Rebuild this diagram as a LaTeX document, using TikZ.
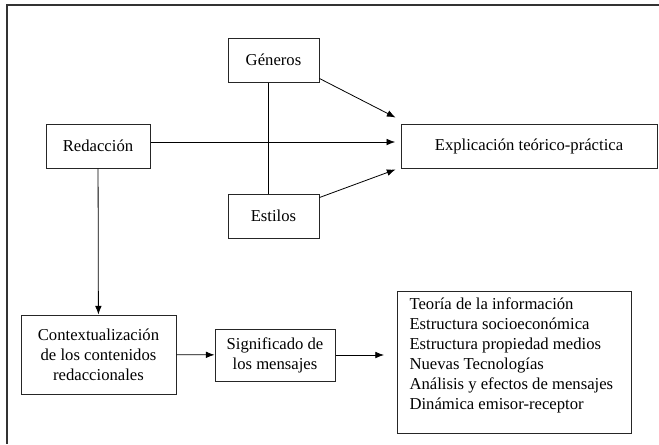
\documentclass[tikz,border=0pt]{standalone}
\usepackage{fontspec}
\setmainfont{Liberation Serif}
\usepackage{tikz}
\usetikzlibrary{calc,arrows,arrows.meta}
\usetikzlibrary{positioning}

\begin{document}
\begin{tikzpicture}
	[   x=0.75pt,y=-0.75pt,
		box/.style={draw=black!85,line width=0.75pt,inner sep=0pt,align=center,
			font=\fontsize{12.5}{15}\selectfont,minimum width=#1},
	]
	\tikzset{normal arrow/.style={draw,line width=0.6pt,-{Latex[length=6.5pt,width=5pt]}}}
	\useasboundingbox (0,0) rectangle (659,444);
	% marco
	\draw[black!80,line width=1pt] (659,5) -- (7,5) -- (7,444);
	
	\node[box=68.25pt,minimum height=33pt] (gen) at (273.5,60) {Géneros};
	\node[box=78pt,minimum height=33pt] (red) at (98,146) {Redacción};
	\node[box=68.25pt,minimum height=33pt] (est) at (273.5,216) {Estilos};
	\node[box=192pt,minimum height=33pt] (exp) at (529,146) {Explicación teórico-práctica};
	
	\node[box=116.25pt,minimum height=59.25pt] (ctx) at (98.5,354.5) {Contextualización\\de los contenidos\\redaccionales};
	\node[box=90pt,minimum height=39pt] (sig) at (275,355) {Significado de\\los mensajes};
	\node[box=175.5pt,anchor=north west,align=left,inner xsep=9pt,inner ysep=5pt] (lst) at (397,291)
		{\parbox[c][96.5pt][t]{157.5pt}{Teoría de la información\\
		Estructura socioeconómica\\
		Estructura propiedad medios\\
		Nuevas Tecnologías\\
		Análisis y efectos de mensajes\\
		Dinámica emisor-receptor}};
	
	\coordinate (exp-a) at ($(exp.north west)+(-5,-6)$);
	\coordinate (exp-b) at ($(exp.south west)+(-5,1)$);
	\coordinate (sig-out) at (384,355);
	
	\draw[line width=0.6pt] ([xshift=-4pt]gen.south) -- ([xshift=-4pt]est.north);
	\path[normal arrow] ([yshift=3pt]gen.south east) -- (exp-a);
	\path[normal arrow] ([yshift=3pt]red.east) -- ([xshift=-4pt,yshift=3pt]exp.west);
	\path[normal arrow] ([yshift=-3pt]est.north east) -- (exp-b);
	\path[normal arrow] (red) -- (ctx);
	\path[normal arrow] (ctx) -- (sig);
	\path[normal arrow] (sig) -- (sig-out);
\end{tikzpicture}
\end{document}
